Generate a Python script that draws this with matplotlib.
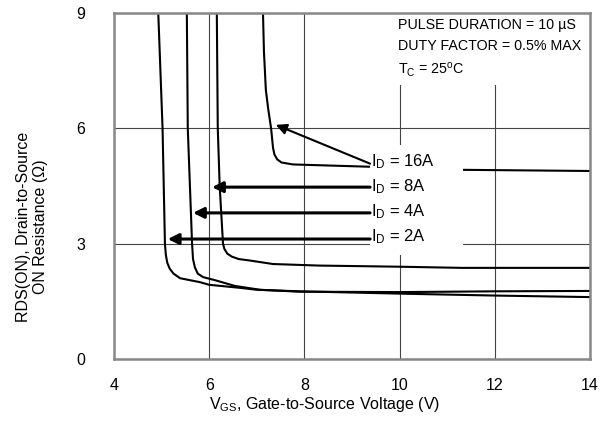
import matplotlib
matplotlib.use('Agg')
import matplotlib.pyplot as plt
from matplotlib.patches import Rectangle

plt.rcParams['font.family'] = ['Liberation Sans', 'DejaVu Sans']
plt.rcParams['mathtext.fontset'] = 'custom'
plt.rcParams['mathtext.rm'] = 'Liberation Sans'
plt.rcParams['mathtext.it'] = 'Liberation Sans'

# curves: VGS (V) vs RDS(ON) (ohm)
v_2a = [4.93, 5.02, 5.07, 5.09, 5.12, 5.17, 5.25, 5.39, 5.80, 6.00, 6.65, 7.00, 7.90, 10.0, 12.0, 14.0]
r_2a = [9.00, 6.00, 3.00, 2.70, 2.50, 2.35, 2.22, 2.10, 2.00, 1.93, 1.85, 1.80, 1.76, 1.70, 1.65, 1.61]

v_4a = [5.53, 5.55, 5.64, 5.66, 5.70, 5.76, 5.87, 6.12, 6.54, 7.07, 7.90, 10.0, 12.0, 14.0]
r_4a = [9.00, 6.00, 3.00, 2.60, 2.38, 2.22, 2.13, 2.05, 1.90, 1.80, 1.75, 1.74, 1.76, 1.77]

v_8a = [6.16, 6.18, 6.22, 6.29, 6.32, 6.38, 6.48, 6.62, 6.86, 7.34, 8.30, 10.0, 11.3, 14.0]
r_8a = [9.00, 6.00, 4.50, 3.00, 2.86, 2.74, 2.66, 2.60, 2.56, 2.47, 2.43, 2.40, 2.37, 2.37]

v_16a = [7.13, 7.15, 7.19, 7.24, 7.30, 7.34, 7.37, 7.43, 7.52, 7.76, 9.38, 11.33, 14.0]
r_16a = [9.00, 8.00, 7.00, 6.50, 6.00, 5.50, 5.32, 5.19, 5.11, 5.06, 5.00, 4.92, 4.89]

curves = [(v_2a, r_2a), (v_4a, r_4a), (v_8a, r_8a), (v_16a, r_16a)]

# labels and arrows (tail at the label, tip near the curve)
labels = ['$I_D$ = 16A', '$I_D$ = 8A', '$I_D$ = 4A', '$I_D$ = 2A']
label_v = 9.40
label_r = [5.12, 4.47, 3.82, 3.17]
tail_r = [5.08, 4.47, 3.80, 3.12]
tip_v = [7.40, 6.06, 5.66, 5.13]
tip_r = [6.09, 4.47, 3.80, 3.12]
arrow_lw = [1.5, 2.2, 2.2, 2.2]

xticks = [4, 6, 8, 10, 12, 14]
yticks = [0, 3, 6, 9]

fig = plt.figure(figsize=(6.08, 4.32), dpi=100)
ax = fig.add_axes([0.1875, 0.169, 0.7829, 0.801])

for v, r in curves:
    ax.plot(v, r, color='black', lw=1.5, zorder=3, solid_capstyle='butt')

ax.set_xlim(4, 14)
ax.set_ylim(0, 9)
ax.set_xticks(xticks)
ax.set_yticks(yticks)
ax.tick_params(length=0, labelsize=11.5)
ax.tick_params(axis='x', pad=14)
ax.tick_params(axis='y', pad=21)
ax.grid(True, color='#444444', lw=0.8, zorder=1)
ax.set_axisbelow(True)
for s in ax.spines.values():
    s.set_color('#888888')
    s.set_linewidth(1.8)
    s.set_zorder(7)

# white block behind the labels
ax.add_patch(Rectangle((9.38, 2.71), 1.95, 2.86, facecolor='white',
                       edgecolor='none', zorder=4))

for lab, lr, tr0, tv, tr, lw in zip(labels, label_r, tail_r, tip_v, tip_r, arrow_lw):
    ax.annotate('', xy=(tv, tr), xytext=(label_v - 0.02, tr0), zorder=6,
                arrowprops=dict(arrowstyle='-|>', color='black', lw=lw,
                                mutation_scale=16, shrinkA=0, shrinkB=0))
    ax.text(label_v, lr, lab, fontsize=12, va='center', ha='left', zorder=6)

ax.text(0.597, 0.985, 'PULSE DURATION = 10 µS\nDUTY FACTOR = 0.5% MAX\n$T_C$ = 25$^o$C',
        transform=ax.transAxes, fontsize=10.3, va='top', ha='left',
        linespacing=1.6, zorder=6,
        bbox=dict(facecolor='white', edgecolor='none', pad=4))

fig.text(325 / 608, 1 - 405 / 432, '$V_{GS}$, Gate-to-Source Voltage (V)',
         fontsize=11.5, ha='center', va='center')
fig.text(32 / 608, 1 - 227 / 432, 'RDS(ON), Drain-to-Source\nON Resistance (Ω)',
         fontsize=11.5, ha='center', va='center', rotation=90)

fig.savefig('out.png', dpi=100)
